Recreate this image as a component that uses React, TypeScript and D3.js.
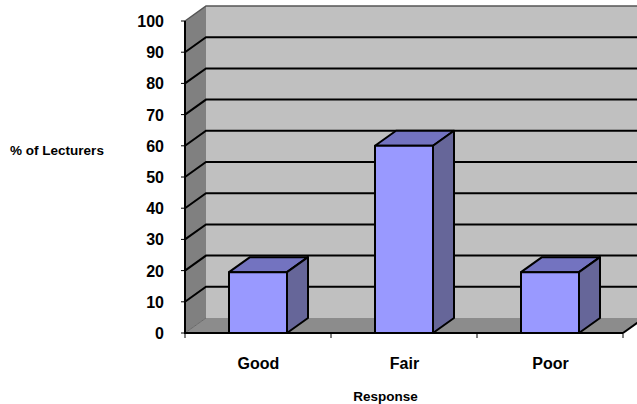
import React from "react";
import * as d3 from "d3";

const categories = ["Good", "Fair", "Poor"];
const values = [19.5, 60, 19.5];
const yTicks = [0, 10, 20, 30, 40, 50, 60, 70, 80, 90, 100];

const W = 637, H = 404;
const dx = 21, dy = -15;
const FRONT = "#9999ff", TOP = "#7373c0", SIDE = "#666699";

export default function App() {
  const y = d3.scaleLinear().domain([0, 100]).range([333, 21]);
  const x = d3.scaleBand<string>().domain(categories).range([185, 623]);
  const barW = 58;
  const L = x.range()[0], R = x.range()[1];
  const y0 = y(0), y100 = y(100);
  const pts = (p: number[][]) => p.map(q => q.join(",")).join(" ");
  const font = "'Liberation Sans', Arial, sans-serif";
  return (
    <svg width={W} height={H} style={{ position: "absolute", left: 0, top: 0, background: "#fff" }} fontFamily={font} fontWeight="bold">
      <polygon points={pts([[L + dx, y100 + dy], [R + dx, y100 + dy], [R + dx, y0 + dy], [L + dx, y0 + dy]])} fill="#c0c0c0" />
      <polygon points={pts([[L, y100], [L + dx, y100 + dy], [L + dx, y0 + dy], [L, y0]])} fill="#808080" />
      <polygon points={pts([[L, y0], [L + dx, y0 + dy], [R + dx, y0 + dy], [R, y0]])} fill="#8c8c8c" />
      <path d={`M${L},${y100}L${L + dx},${y100 + dy}H${R + dx}`} fill="none" stroke="#555" strokeWidth={1.5} />
      {yTicks.filter(t => t > 0 && t < 100).map(t => (
        <path key={t} d={`M${L},${y(t)}L${L + dx},${y(t) + dy}H${R + dx}`} fill="none" stroke="#000" strokeWidth={2} />
      ))}
      <path d={`M${L},${y0}L${L + dx},${y0 + dy}`} fill="none" stroke="#6a6a6a" strokeWidth={1} />
      <path d={`M${L},${y100}V${y0}H${R}`} fill="none" stroke="#000" strokeWidth={2} />
      <path d={`M${R},${y0}L${R + dx},${y0 + dy}`} fill="none" stroke="#000" strokeWidth={2} />
      {categories.map((c, i) => {
        const x0 = x(c)! + (x.bandwidth() - barW) / 2, x1 = x0 + barW;
        const t = y(values[i]);
        return (
          <g key={c} stroke="#000" strokeWidth={2} strokeLinejoin="round">
            <polygon points={pts([[x0, t], [x0 + dx, t + dy], [x1 + dx, t + dy], [x1, t]])} fill={TOP} />
            <polygon points={pts([[x1, t], [x1 + dx, t + dy], [x1 + dx, y0 + dy], [x1, y0]])} fill={SIDE} />
            <rect x={x0} y={t} width={barW} height={y0 - t} fill={FRONT} />
          </g>
        );
      })}
      {yTicks.map(t => (
        <g key={t}>
          <line x1={L - 4} x2={L} y1={y(t)} y2={y(t)} stroke="#000" strokeWidth={1} />
          <text x={164} y={y(t) + 6} textAnchor="end" fontSize={16}>{t}</text>
        </g>
      ))}
      {[...categories.map(c => x(c)!), R].map((v, i) => (
        <line key={i} x1={v} x2={v} y1={y0} y2={y0 + 5} stroke="#000" strokeWidth={1} />
      ))}
      {categories.map(c => (
        <text key={c} x={x(c)! + x.bandwidth() / 2 + 0.5} y={369} textAnchor="middle" fontSize={16}>{c}</text>
      ))}
      <text x={57} y={155} textAnchor="middle" fontSize={13.5}>% of Lecturers</text>
      <text x={385.5} y={401} textAnchor="middle" fontSize={13.5}>Response</text>
    </svg>
  );
}
